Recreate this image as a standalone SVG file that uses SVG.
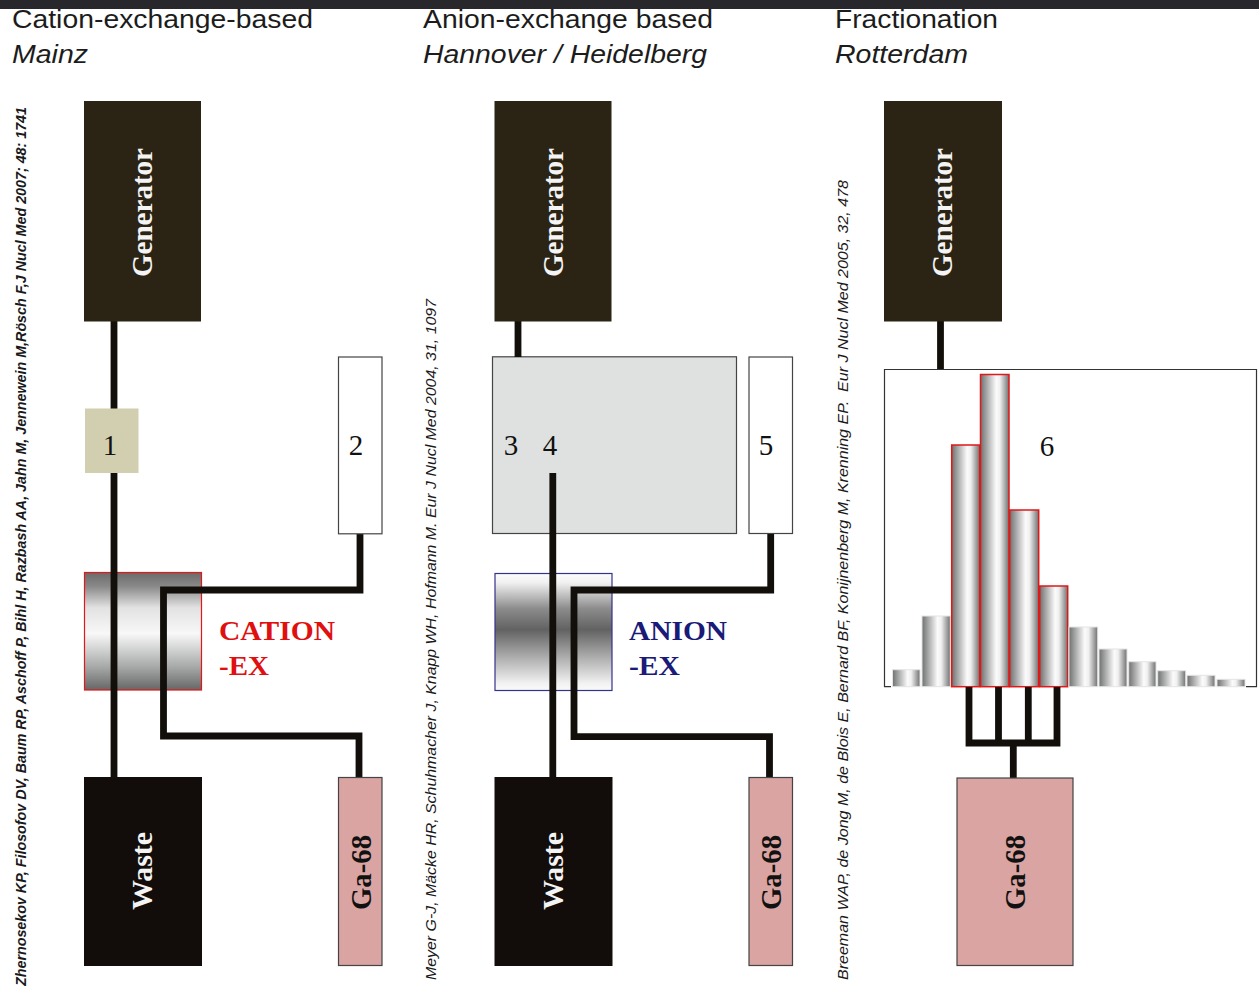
<svg xmlns="http://www.w3.org/2000/svg" width="1259" height="986" viewBox="0 0 1259 986">
<style>
.h{font-family:"Liberation Sans",Arial,sans-serif;font-size:26px;fill:#1c1c1c}
.i{font-style:italic}
.ref{font-family:"Liberation Sans",Arial,sans-serif;font-style:italic;font-size:14px;fill:#1a1a1a}
.lbl{font-family:"Liberation Serif","Times New Roman",serif;font-weight:bold;font-size:30px;text-anchor:middle}
.num{font-family:"Liberation Serif","Times New Roman",serif;font-size:29px;fill:#111;text-anchor:middle}
.ex{font-family:"Liberation Serif","Times New Roman",serif;font-weight:bold;font-size:28px}
.gen{fill:#2b2415;stroke:#2b2415}
.waste{fill:#120d0a;stroke:#120d0a}
.ga{fill:#d9a4a1;stroke:#444;stroke-width:1.2}
.white{fill:#fff;stroke:#444;stroke-width:1.2}
.w{fill:#f4f4f4}
.k{fill:#111}
.wire{fill:none;stroke:#120e0a;stroke-width:6.8;stroke-linejoin:miter}
.bar{fill:url(#bar);stroke:#e4e4e4;stroke-width:1}
.red{fill:url(#bar);stroke:#e01818;stroke-width:1.5}
</style>
<defs>
<linearGradient id="bar" x1="0" x2="1" y1="0" y2="0">
<stop offset="0" stop-color="#6f7070"/><stop offset=".55" stop-color="#fbfbfb"/><stop offset=".68" stop-color="#f0f0f0"/><stop offset="1" stop-color="#707171"/>
</linearGradient>
<linearGradient id="cat" x1="0" x2="0" y1="0" y2="1">
<stop offset="0" stop-color="#6a6a6a"/><stop offset=".12" stop-color="#8a8a8a"/><stop offset=".3" stop-color="#e2e2e2"/><stop offset=".52" stop-color="#f8f8f8"/><stop offset=".8" stop-color="#a8aaaa"/><stop offset="1" stop-color="#666"/>
</linearGradient>
<linearGradient id="ani" x1="0" x2="0" y1="0" y2="1">
<stop offset="0" stop-color="#fdfdfd"/><stop offset=".08" stop-color="#f0f0f0"/><stop offset=".3" stop-color="#8c8c8c"/><stop offset=".48" stop-color="#626262"/><stop offset=".7" stop-color="#a8a8a8"/><stop offset=".94" stop-color="#f2f2f2"/><stop offset="1" stop-color="#fafafa"/>
</linearGradient>
</defs>
<rect width="1259" height="986" fill="#fff"/>

<g id="headers">
<text class="h" x="12" y="28" textLength="301" lengthAdjust="spacingAndGlyphs">Cation-exchange-based</text>
<text class="h i" x="12" y="63" textLength="76" lengthAdjust="spacingAndGlyphs">Mainz</text>
<text class="h" x="423" y="28" textLength="290" lengthAdjust="spacingAndGlyphs">Anion-exchange based</text>
<text class="h i" x="423" y="63" textLength="284" lengthAdjust="spacingAndGlyphs">Hannover / Heidelberg</text>
<text class="h" x="835" y="28" textLength="163" lengthAdjust="spacingAndGlyphs">Fractionation</text>
<text class="h i" x="835" y="63" textLength="133" lengthAdjust="spacingAndGlyphs">Rotterdam</text>
</g>
<rect id="top-bar" x="0" y="0" width="1259" height="9" fill="#28282c"/>

<g id="references">
<text class="ref" style="font-weight:bold" transform="translate(26,986) rotate(-90)" textLength="879" lengthAdjust="spacingAndGlyphs">Zhernosekov KP, Filosofov DV, Baum RP, Aschoff P, Bihl H, Razbash AA, Jahn M, Jennewein M,Rösch F,J Nucl Med 2007; 48: 1741</text>
<text class="ref" transform="translate(436,980) rotate(-90)" textLength="681" lengthAdjust="spacingAndGlyphs">Meyer G-J, Mäcke HR, Schuhmacher J, Knapp WH, Hofmann M. Eur J Nucl Med 2004, 31, 1097</text>
<text class="ref" transform="translate(848,980) rotate(-90)" textLength="800" lengthAdjust="spacingAndGlyphs" xml:space="preserve">Breeman WAP, de Jong M, de Blois E, Bernard BF, Konijnenberg M, Krenning EP.  Eur J Nucl Med 2005, 32, 478</text>
</g>

<g id="node-box-3-4"><rect x="492.5" y="356.8" width="244" height="176.7" fill="#dfe1e0" stroke="#444" stroke-width="1.2"/><text class="num" x="511" y="455">3</text><text class="num" x="550" y="455">4</text></g>
<g id="node-cation-ex"><rect x="84.5" y="572.5" width="117" height="117.5" fill="url(#cat)" stroke="#e01818" stroke-width="1.2"/></g>
<g id="node-anion-ex"><rect x="495" y="573.5" width="117" height="117" fill="url(#ani)" stroke="#33338a" stroke-width="1.2"/></g>
<g id="node-chromatogram">
<path d="M891 686.7H884.5V369.5H1256.5V686.7H1246" fill="none" stroke="#333" stroke-width="1.2"/>
<rect class="bar" x="892.5" y="669.7" width="27.5" height="17"/>
<rect class="bar" x="922" y="616" width="28.3" height="70.7"/>
<rect class="red" x="951.7" y="445" width="28" height="241.7"/>
<rect class="red" x="980.5" y="374.5" width="28.5" height="312.2"/>
<rect class="red" x="1009.7" y="510" width="29" height="176.7"/>
<rect class="red" x="1039.7" y="586" width="28" height="100.7"/>
<rect class="bar" x="1069" y="627" width="28.7" height="59.7"/>
<rect class="bar" x="1099" y="649" width="28" height="37.7"/>
<rect class="bar" x="1128.7" y="661.7" width="27.3" height="25"/>
<rect class="bar" x="1157.7" y="670.7" width="28" height="16"/>
<rect class="bar" x="1187" y="675.3" width="28" height="11.4"/>
<rect class="bar" x="1217" y="679.3" width="28" height="7.4"/>
<text class="num" x="1047" y="456">6</text>
</g>

<g id="connectors">
<path class="wire" d="M114 321V777"/>
<path class="wire" d="M360 534V590H163.5V736H359V777"/>
<path class="wire" d="M518 321V357"/>
<path class="wire" d="M552.8 473V777"/>
<path class="wire" d="M770.7 534V590H574V736.7H769.5V777"/>
<path class="wire" d="M940.5 321V369"/>
<path class="wire" d="M969 687V743H1057V687M998.5 687V743M1028.3 687V743M1013.3 743V778"/>
</g>

<g id="node-generator-1"><rect class="gen" x="84.5" y="101.5" width="116" height="219.5"/><text class="lbl w" transform="translate(152,212.500) rotate(-90)" textLength="129" lengthAdjust="spacingAndGlyphs">Generator</text></g>
<g id="node-generator-2"><rect class="gen" x="495" y="101.500" width="116" height="219.5"/><text class="lbl w" transform="translate(563,212.500) rotate(-90)" textLength="129" lengthAdjust="spacingAndGlyphs">Generator</text></g>
<g id="node-generator-3"><rect class="gen" x="884.500" y="101.500" width="117" height="219.5"/><text class="lbl w" transform="translate(952,212.500) rotate(-90)" textLength="129" lengthAdjust="spacingAndGlyphs">Generator</text></g>
<g id="node-1"><rect x="85" y="408.500" width="53.500" height="64.500" fill="#d1cfb0"/><text class="num" x="110" y="455">1</text></g>
<g id="node-2"><rect class="white" x="338.500" y="357" width="43.500" height="176.800"/><text class="num" x="356" y="455">2</text></g>
<g id="node-5"><rect class="white" x="749" y="357" width="43.500" height="176.500"/><text class="num" x="766" y="455">5</text></g>
<g id="node-waste-1"><rect class="waste" x="84.500" y="777.500" width="117" height="188"/><text class="lbl w" transform="translate(152,871) rotate(-90)" textLength="78" lengthAdjust="spacingAndGlyphs">Waste</text></g>
<g id="node-waste-2"><rect class="waste" x="495" y="777.500" width="117" height="188"/><text class="lbl w" transform="translate(563,871) rotate(-90)" textLength="78" lengthAdjust="spacingAndGlyphs">Waste</text></g>
<g id="node-ga68-1"><rect class="ga" x="338.500" y="777.500" width="43.500" height="188"/><text class="lbl k" transform="translate(371,872.500) rotate(-90)" textLength="75" lengthAdjust="spacingAndGlyphs">Ga-68</text></g>
<g id="node-ga68-2"><rect class="ga" x="749" y="777.500" width="43.500" height="188"/><text class="lbl k" transform="translate(781,872.500) rotate(-90)" textLength="75" lengthAdjust="spacingAndGlyphs">Ga-68</text></g>
<g id="node-ga68-3"><rect class="ga" x="957" y="778" width="116" height="187.500"/><text class="lbl k" transform="translate(1025,872.500) rotate(-90)" textLength="75" lengthAdjust="spacingAndGlyphs">Ga-68</text></g>

<g id="label-cation"><text class="ex" x="219" y="640" fill="#e01010" textLength="116" lengthAdjust="spacingAndGlyphs">CATION</text><text class="ex" x="219" y="675" fill="#e01010" textLength="50" lengthAdjust="spacingAndGlyphs">-EX</text></g>
<g id="label-anion"><text class="ex" x="629" y="640" fill="#1a1a78" textLength="98" lengthAdjust="spacingAndGlyphs">ANION</text><text class="ex" x="629" y="675" fill="#1a1a78" textLength="51" lengthAdjust="spacingAndGlyphs">-EX</text></g>
</svg>
